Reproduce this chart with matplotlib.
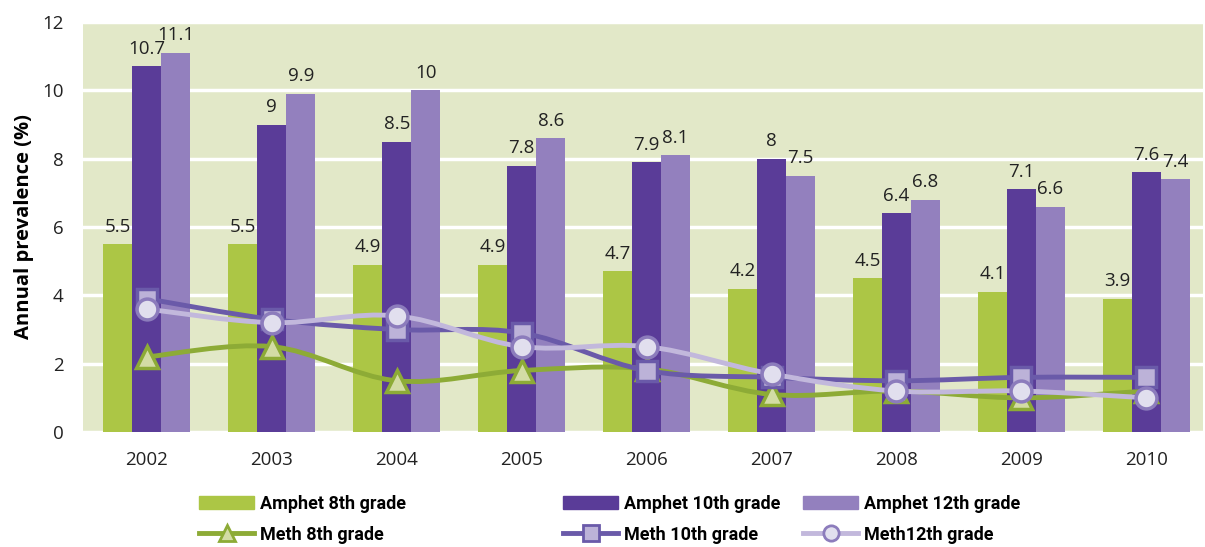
import numpy as np
import matplotlib
matplotlib.use("Agg")
import matplotlib.pyplot as plt
from matplotlib.path import Path
from matplotlib.patches import PathPatch, Patch
from matplotlib.lines import Line2D

plt.rcParams['font.family'] = ['Open Sans', 'DejaVu Sans']

years = ['2002', '2003', '2004', '2005', '2006', '2007', '2008', '2009', '2010']
amphet_8 = [5.5, 5.5, 4.9, 4.9, 4.7, 4.2, 4.5, 4.1, 3.9]
amphet_10 = [10.7, 9, 8.5, 7.8, 7.9, 8, 6.4, 7.1, 7.6]
amphet_12 = [11.1, 9.9, 10, 8.6, 8.1, 7.5, 6.8, 6.6, 7.4]
meth_8 = [2.2, 2.5, 1.5, 1.8, 1.85, 1.1, 1.2, 1.0, 1.2]
meth_10 = [3.9, 3.3, 3.0, 2.9, 1.8, 1.6, 1.5, 1.6, 1.6]
meth_12 = [3.6, 3.2, 3.4, 2.5, 2.5, 1.7, 1.2, 1.2, 1.0]

green = '#acc645'
purple = '#5a3c98'
lilac = '#9380be'
bg = '#e2e8c8'

leg_font = {'family': ['Roboto', 'DejaVu Sans'], 'size': 13, 'weight': 'bold'}


def smooth_path(xs, ys, k=0.17):
    # catmull-rom style cubic bezier through the points
    xs = np.asarray(xs, float)
    ys = np.asarray(ys, float)
    n = len(xs)
    verts = [(xs[0], ys[0])]
    codes = [Path.MOVETO]
    for i in range(n - 1):
        i0 = max(i - 1, 0)
        i3 = min(i + 2, n - 1)
        c1 = (xs[i] + k * (xs[i + 1] - xs[i0]), ys[i] + k * (ys[i + 1] - ys[i0]))
        c2 = (xs[i + 1] - k * (xs[i3] - xs[i]), ys[i + 1] - k * (ys[i3] - ys[i]))
        verts += [c1, c2, (xs[i + 1], ys[i + 1])]
        codes += [Path.CURVE4] * 3
    return Path(verts, codes)


fig = plt.figure(figsize=(12.05, 5.47), dpi=100)
ax = fig.add_axes([0.069, 0.2102, 0.929, 0.7495])
ax.set_facecolor(bg)

x = np.arange(len(years))
w = 0.232
b8 = ax.bar(x - w, amphet_8, w, color=green, zorder=2)
b10 = ax.bar(x, amphet_10, w, color=purple, zorder=2)
b12 = ax.bar(x + w, amphet_12, w, color=lilac, zorder=2)

for bars, vals in [(b8, amphet_8), (b10, amphet_10), (b12, amphet_12)]:
    for r, v in zip(bars, vals):
        ax.text(r.get_x() + r.get_width() / 2, v + 0.25, f'{v:g}',
                ha='center', va='bottom', fontsize=13.5, color='#222222', zorder=5)

line_styles = [
    (meth_8, '#8dab36', '^', '#d3dca5', '#8dab36', 16),
    (meth_10, '#6a5aa9', 's', '#bcb2d8', '#6a5aa9', 15),
    (meth_12, '#c2b8dc', 'o', '#e1dfee', '#8c7cbc', 15),
]
for vals, lc, mk, mfc, mec, ms in line_styles:
    ax.add_patch(PathPatch(smooth_path(x, vals), fill=False, edgecolor=lc,
                           lw=3.5, zorder=3, capstyle='round'))
    ax.plot(x, vals, ls='none', marker=mk, ms=ms, mfc=mfc, mec=mec, mew=2.5, zorder=4)

ax.set_xlim(-0.51, 8.45)
ax.set_ylim(0, 12)
ax.set_yticks(range(0, 13, 2))
ax.set_xticks(x)
ax.set_xticklabels(years)
ax.yaxis.grid(True, color='white', lw=2.5, zorder=1)
ax.set_axisbelow(True)
for s in ax.spines.values():
    s.set_visible(False)
ax.tick_params(length=0, labelsize=13.5, colors='#222222')
ax.tick_params(axis='x', pad=14)
ax.tick_params(axis='y', pad=14)
ax.set_ylabel('Annual prevalence (%)', fontsize=14.5, fontweight='bold', labelpad=6)

cols = [
    ('Amphet 8th grade', green, 'Meth 8th grade', line_styles[0], 0.161),
    ('Amphet 10th grade', purple, 'Meth 10th grade', line_styles[1], 0.463),
    ('Amphet 12th grade', lilac, 'Meth12th grade', line_styles[2], 0.662),
]
for bar_lab, bc, line_lab, st, xpos in cols:
    _, lc, mk, mfc, mec, _ = st
    handles = [Patch(color=bc),
               Line2D([], [], color=lc, lw=3.5, marker=mk, ms=11, mfc=mfc, mec=mec, mew=2)]
    fig.legend(handles, [bar_lab, line_lab], loc='upper left',
               bbox_to_anchor=(xpos, 0.1055), frameon=False, prop=leg_font,
               handlelength=55 / (leg_font['size'] * 100 / 72), handletextpad=0.3,
               labelspacing=0.72, borderaxespad=0, borderpad=0.3)

fig.savefig('out.png', dpi=100)
